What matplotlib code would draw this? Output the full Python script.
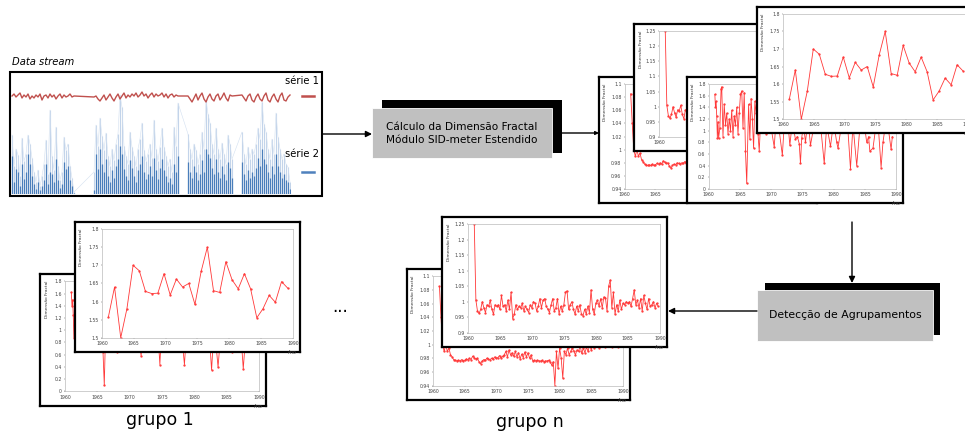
import matplotlib.pyplot as plt
import numpy as np
from matplotlib.patches import Rectangle

W, H = 965, 434
nan = np.nan

# ---- data stream (one sample every 2 px, heights in px above the baseline) ----
stream_x = np.arange(12, 292, 2)
serie1 = [
    98, 100, 97, 99, 101, 96, 99, 97, 100, 95,
    98, 96, 99, 97, 100, 94, 98, 99, 96, 100,
    97, 99, 95, 98, 100, 96, 99, 97, 98, 100,
    97, 98, nan, nan, nan, nan, nan, nan, nan, nan,
    nan, 97, 98, 95, 93, 96, 99, 94, 97, 100,
    96, 93, 97, 100, 95, 98, 101, 96, 99, 97,
    100, 98, 101, 97, 99, 102, 98, 100, 96, 99,
    101, 97, 100, 98, 99, 101, 97, 100, 96, 99,
    100, 97, 99, 98, nan, nan, nan, nan, 98, 95,
    92, 96, 100, 94, 98, 101, 95, 92, 97, 100,
    95, 93, 98, 100, 94, 97, 101, 96, 93, 99,
    98, nan, nan, nan, nan, 99, 96, 93, 98, 100,
    94, 92, 97, 100, 95, 93, 98, 101, 94, 92,
    97, 100, 95, 92, 98, 101, 94, 93, 97, 99]
serie2_pico = [
    59, 28, 45, 39, 18, 56, 33, 40, 59, 50,
    36, 22, 12, 24, 8, 18, 30, 54, 20, 84,
    38, 24, 67, 28, 14, 22, 57, 44, 50, 28,
    16, 2, nan, nan, nan, nan, nan, nan, nan, nan,
    nan, 22, 69, 48, 76, 58, 44, 61, 38, 28,
    45, 34, 50, 60, 99, 87, 48, 38, 30, 62,
    47, 38, 28, 45, 55, 71, 44, 33, 40, 50,
    36, 74, 45, 33, 47, 66, 47, 38, 28, 35,
    22, 67, 48, 91, nan, nan, nan, nan, 60, 45,
    35, 50, 44, 30, 40, 62, 45, 94, 80, 71,
    50, 40, 66, 45, 35, 51, 40, 30, 59, 50,
    35, nan, nan, nan, nan, 62, 40, 30, 47, 35,
    45, 40, 50, 66, 55, 92, 70, 62, 45, 35,
    55, 40, 81, 57, 45, 35, 40, 30, 27, 12]
serie2_base = [
    38, 12, 25, 22, 8, 30, 15, 22, 40, 30,
    18, 10, 5, 12, 4, 8, 14, 30, 10, 22,
    20, 12, 35, 14, 6, 10, 32, 25, 28, 14,
    8, 1, nan, nan, nan, nan, nan, nan, nan, nan,
    nan, 4, 40, 25, 45, 30, 22, 35, 18, 12,
    24, 16, 28, 35, 48, 40, 25, 18, 14, 34,
    26, 18, 12, 24, 30, 38, 22, 15, 20, 28,
    18, 36, 24, 15, 26, 35, 24, 18, 12, 16,
    10, 30, 22, 38, nan, nan, nan, nan, 32, 22,
    16, 28, 22, 14, 20, 34, 22, 45, 40, 36,
    26, 20, 35, 22, 16, 28, 20, 14, 32, 26,
    16, nan, nan, nan, nan, 32, 20, 14, 24, 16,
    22, 18, 26, 36, 28, 45, 35, 30, 22, 16,
    28, 20, 40, 28, 22, 16, 20, 14, 12, 5]

# ---- fractal dimension series ----
anos_a = np.linspace(1961, 1989.2, 30)
dim_a = [1.557, 1.64, 1.50, 1.58, 1.70, 1.685, 1.628, 1.622, 1.623, 1.677,
         1.618, 1.662, 1.64, 1.65, 1.592, 1.683, 1.75, 1.63, 1.625, 1.71,
         1.66, 1.635, 1.677, 1.635, 1.555, 1.58, 1.617, 1.598, 1.655, 1.637]

anos_trim = 1961 + np.arange(116) / 4
dim_b = [1.25, 1.005, 0.97, 0.962, 0.975, 1.0, 0.98, 0.965,
         0.99, 0.985, 1.005, 0.975, 0.96, 0.99, 0.985, 0.99,
         0.975, 1.02, 0.985, 0.99, 0.97, 1.005, 0.975, 1.03,
         0.945, 0.96, 0.99, 0.975, 0.985, 0.98, 0.995, 0.97,
         0.985, 0.975, 0.965, 0.99, 0.98, 1.0, 0.995, 0.97,
         0.985, 1.01, 0.98, 1.005, 1.01, 0.985, 0.975, 0.965,
         0.99, 1.01, 0.97, 0.98, 1.01, 0.96, 0.985, 0.97,
         0.99, 1.03, 1.035, 0.975, 0.99, 1.0, 0.975, 0.96,
         0.985, 0.97, 0.99, 0.96, 0.955, 0.975, 0.96, 0.985,
         0.965, 1.038, 0.975, 0.96, 0.995, 1.005, 0.985, 1.01,
         0.98, 1.015, 1.013, 0.97, 1.05, 1.07, 0.98, 1.03,
         0.96, 0.99, 0.97, 1.005, 0.975, 0.995, 0.99, 1.0,
         0.995, 1.0, 0.985, 1.01, 1.038, 0.99, 1.005, 0.98,
         1.01, 0.97, 1.02, 0.995, 0.975, 1.01, 0.985, 0.99,
         1.0, 0.98, 0.995, 0.985]
dim_c = [1.085, 1.04, 1.0, 0.99, 1.0, 0.99, 0.995, 0.985,
         0.982, 0.978, 0.977, 0.976, 0.977, 0.976, 0.978, 0.976,
         0.977, 0.979, 0.978, 0.98, 0.978, 0.983, 0.981, 0.979,
         0.98, 0.975, 0.972, 0.976, 0.978, 0.977, 0.98, 0.979,
         0.978, 0.98, 0.979, 0.982, 0.98, 0.981, 0.984, 0.98,
         0.983, 0.985, 0.99, 0.982, 0.992, 0.985, 0.988, 0.983,
         0.99, 0.982, 0.988, 0.979, 0.986, 0.981, 0.989, 0.982,
         0.988, 0.98, 0.985, 0.976, 0.977, 0.976, 0.977, 0.976,
         0.976, 0.977, 0.975, 0.976, 0.976, 0.977, 0.975, 0.97,
         0.975, 0.94, 0.99, 0.965, 0.995, 0.98, 0.951, 0.99,
         0.985, 0.995, 0.985, 0.99, 0.995, 0.99, 0.985, 0.992,
         0.99, 0.998, 0.987, 0.995, 0.988, 0.996, 0.99, 1.0,
         0.992, 1.0, 0.995, 0.998, 1.0, 0.995, 1.002, 0.998,
         1.0, 0.996, 1.003, 0.999, 1.001, 0.997, 1.0, 0.998,
         1.0, 0.997, 1.002, 0.999]

anos_d = [1961.0, 1961.1, 1961.2, 1961.3, 1961.4, 1961.5, 1961.6, 1961.8, 1962.0, 1962.1,
          1962.3, 1962.5, 1962.7, 1962.9, 1963.1, 1963.3, 1963.5, 1963.7, 1963.9, 1964.1,
          1964.3, 1964.5, 1964.7, 1964.9, 1965.1, 1965.3, 1965.5, 1965.7, 1965.9, 1966.1,
          1966.4, 1966.6, 1966.8, 1967.0, 1967.2, 1967.4, 1967.6, 1967.9, 1968.1, 1968.3,
          1968.7, 1969.2, 1969.6, 1970.0, 1970.5, 1970.8, 1971.3, 1971.8, 1972.1, 1972.6,
          1973.0, 1973.4, 1973.9, 1974.2, 1974.5, 1974.7, 1974.9, 1975.2, 1975.5, 1975.9,
          1976.3, 1976.8, 1977.5, 1978.0, 1978.5, 1978.9, 1979.5, 1980.0, 1980.5, 1980.7,
          1981.2, 1981.8, 1982.3, 1982.7, 1983.1, 1983.7, 1984.2, 1984.8, 1985.3, 1985.6,
          1985.8, 1986.3, 1986.8, 1987.2, 1987.6, 1987.9, 1988.3, 1988.8, 1989.2, 1989.4]
dim_d = [1.62, 1.40, 1.50, 1.25, 0.88, 1.15, 0.87, 1.05, 1.72, 1.75,
         0.90, 1.45, 1.10, 1.30, 0.95, 1.20, 1.00, 1.35, 0.90, 1.25,
         1.10, 1.40, 0.95, 1.30, 1.62, 1.68, 1.05, 1.65, 0.65, 0.10,
         1.45, 0.85, 1.55, 1.20, 0.70, 1.50, 1.30, 0.95, 0.65, 1.10,
         1.20, 0.95, 1.30, 1.05, 0.72, 1.20, 1.00, 0.58, 1.10, 1.25,
         0.75, 1.15, 0.85, 0.90, 0.78, 0.44, 0.88, 1.10, 0.80, 1.20,
         0.75, 1.05, 1.20, 1.00, 0.44, 1.10, 0.73, 1.15, 0.80, 0.70,
         1.05, 1.20, 1.00, 0.35, 1.10, 0.40, 1.05, 1.20, 0.80, 0.90,
         0.65, 0.70, 1.10, 1.00, 0.37, 0.80, 1.10, 1.00, 0.68, 0.90]

ticks_a = [1.5, 1.55, 1.6, 1.65, 1.7, 1.75, 1.8]
ticks_b = [0.9, 0.95, 1, 1.05, 1.1, 1.15, 1.2, 1.25]
ticks_c = [0.94, 0.96, 0.98, 1, 1.02, 1.04, 1.06, 1.08, 1.1]
ticks_d = [0, 0.2, 0.4, 0.6, 0.8, 1, 1.2, 1.4, 1.6, 1.8]
anos_ticks = [1960, 1965, 1970, 1975, 1980, 1985, 1990]

RED = '#ff3838'
GREY_BOX = '#c0c0c0'


def px(l, t, w, h):
    return [l / W, 1 - (t + h) / H, w / W, h / H]


fig = plt.figure(figsize=(W / 100, H / 100), dpi=100)

bg = fig.add_axes([0, 0, 1, 1], zorder=0)
bg.set_xlim(0, W)
bg.set_ylim(H, 0)
bg.axis('off')


def panel(l, t, w, h, x, y, yticks, lm, z, last_label=1990, ano=True):
    fr = fig.add_axes(px(l, t, w, h), zorder=z)
    fr.set_xticks([])
    fr.set_yticks([])
    fr.set_facecolor('white')
    for s in fr.spines.values():
        s.set_linewidth(1.6)
    fr.text(6.5 / w, 0.95, 'Dimensão Fractal', rotation=90, ha='center', va='top',
            fontsize=3.2, color='#333333', transform=fr.transAxes)
    ax = fig.add_axes(px(l + lm * w, t + 0.055 * h, (0.968 - lm) * w, 0.835 * h), zorder=z + 0.1)
    ax.patch.set_alpha(0)
    ax.plot(x, y, color=RED, lw=0.6, marker='.', ms=1.3)
    ax.set_xlim(1960, 1990)
    ax.set_ylim(yticks[0], yticks[-1])
    ax.set_yticks(yticks)
    ax.set_yticklabels([f'{v:g}' for v in yticks])
    ax.set_xticks(anos_ticks)
    # labels that sit under a front panel are left out
    ax.set_xticklabels([str(a) if a <= last_label else '' for a in anos_ticks])
    ax.tick_params(labelsize=3.3, length=1, width=0.3, pad=1.2, colors='#444444')
    for s in ax.spines.values():
        s.set_color('#bbbbbb')
        s.set_linewidth(0.5)
    if ano:
        ax.text(1.0, -0.115, 'Ano', transform=ax.transAxes, ha='center', va='top',
                fontsize=3.3, color='#444444')


# ---- data stream block ----
bg.text(12, 62, 'Data stream', style='italic', fontsize=7.2, va='center', ha='left')
bg.add_patch(Rectangle((10, 72), 312, 124, fc='white', ec='black', lw=1.5))
st = fig.add_axes(px(11, 72, 280, 122), zorder=1)
st.axis('off')
st.set_xlim(11, 291)
st.set_ylim(0, 122)
pico = np.array(serie2_pico, dtype=float)
base = np.array(serie2_base, dtype=float)
s1 = np.array(serie1, dtype=float)
ok = ~np.isnan(pico)
st.vlines(stream_x[ok], 0, pico[ok], color='#c3d4ea', lw=0.8)
st.plot(stream_x[ok], pico[ok], color='#d3e0f0', lw=0.4)
st.vlines(stream_x[ok], 0, base[ok], color='#4a7ebb', lw=0.9)
ok1 = ~np.isnan(s1)
st.plot(stream_x[ok1], s1[ok1], color='#c0504d', lw=1.0)

bg.text(319, 81, 'série 1', ha='right', va='center', fontsize=7.2)
bg.plot([302, 314], [96, 96], color='#c0504d', lw=1.8)
bg.text(319, 154, 'série 2', ha='right', va='center', fontsize=7.2)
bg.plot([302, 314], [172, 172], color='#4f81bd', lw=1.8)

arrow = dict(arrowstyle='-|>', color='black', lw=1, mutation_scale=9, shrinkA=0, shrinkB=0)
bg.annotate('', xy=(372, 134), xytext=(322, 134), arrowprops=arrow)

# ---- processing box ----
bg.add_patch(Rectangle((382, 100), 180, 53, fc='black', ec='none'))
bg.add_patch(Rectangle((372, 108), 180, 50, fc=GREY_BOX, ec='white', lw=0.6))
bg.text(462, 133.5, 'Cálculo da Dimensão Fractal\nMódulo SID-meter Estendido',
        ha='center', va='center', fontsize=7.6, linespacing=1.35)
bg.annotate('', xy=(599, 133), xytext=(562, 133),
            arrowprops=dict(arrowstyle='-|>', color='black', lw=1, mutation_scale=5,
                            shrinkA=0, shrinkB=0))

# ---- stacked outputs, top right ----
panel(599, 77, 218, 126, anos_trim, dim_c, ticks_c, 0.117, 2, last_label=1965, ano=False)
panel(634, 24, 218, 127, anos_trim, dim_b, ticks_b, 0.115, 3, last_label=1960, ano=False)
panel(687, 77, 216, 126, anos_d, dim_d, ticks_d, 0.10, 4)
panel(757, 7, 218, 126, anos_a, dim_a, ticks_a, 0.12, 5)

bg.annotate('', xy=(852, 283), xytext=(852, 222), arrowprops=arrow)

# ---- clustering box ----
bg.add_patch(Rectangle((765, 283), 175, 52, fc='black', ec='none'))
bg.add_patch(Rectangle((757, 290), 176, 51, fc=GREY_BOX, ec='white', lw=0.6))
bg.text(845, 315.5, 'Detecção de Agrupamentos', ha='center', va='center', fontsize=7.8)
bg.annotate('', xy=(668, 311), xytext=(757, 311), arrowprops=arrow)

# ---- groups ----
panel(40, 274, 226, 132, anos_d, dim_d, ticks_d, 0.11, 2)
panel(75, 222, 225, 130, anos_a, dim_a, ticks_a, 0.12, 3)
panel(407, 269, 223, 131, anos_trim, dim_c, ticks_c, 0.117, 2)
panel(442, 217, 225, 130, anos_trim, dim_b, ticks_b, 0.115, 3)

bg.text(340, 307, '...', ha='center', va='center', fontsize=12)
bg.text(160, 420, 'grupo 1', ha='center', va='center', fontsize=12.5)
bg.text(530, 422, 'grupo n', ha='center', va='center', fontsize=12.5)

fig.savefig('out.png', dpi=100)
